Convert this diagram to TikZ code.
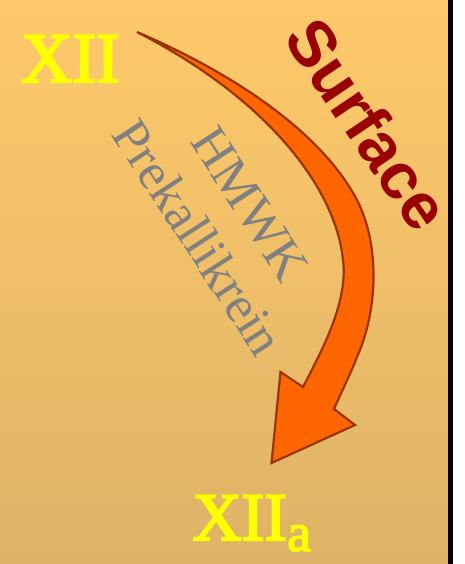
\documentclass[tikz,border=0pt]{standalone}
\usepackage{fontspec}
\setmainfont{Liberation Serif}
\newfontfamily\surffont{Liberation Sans}
\newfontfamily\boldish[FakeBold=3]{Liberation Serif}
\definecolor{bgtop}{RGB}{254,201,106}
\definecolor{bgbot}{RGB}{222,179,103}
\definecolor{arrowfill}{RGB}{255,102,0}
\definecolor{arrowline}{RGB}{153,51,0}
\definecolor{surfred}{RGB}{153,0,0}
\definecolor{labelgray}{RGB}{128,128,128}
\definecolor{xyellow}{RGB}{255,255,0}
\tikzset{
  factor/.style={text=xyellow, inner sep=0pt},
  bigarrow/.style={draw=arrowline, fill=arrowfill, line width=2.2pt, line join=miter},
}
\begin{document}
\begin{tikzpicture}[x=1pt,y=-1pt]
\useasboundingbox (0,0) rectangle (465,564);
\fill[white] (0,0) rectangle (465,564);
\shade[top color=bgtop,bottom color=bgbot] (0,0) rectangle (448,564);
\fill[black] (448,0) rectangle (453,564);
\draw[bigarrow] (137,32) .. controls (230,72) and (320,130) .. (357,200)
  .. controls (380,245) and (378,310) .. (357,357)
  .. controls (350,375) and (340,395) .. (334,409)
  -- (355,425) -- (271.5,463) -- (280.5,372) -- (303,387)
  .. controls (325,345) and (348,300) .. (343,260)
  .. controls (336,190) and (270,100) .. (137,32) -- cycle;
\node[factor, anchor=base west, font=\boldish\fontsize{71}{71}\selectfont] (xii) at (21,82) {XII};
\node[factor, anchor=base west, font=\boldish\fontsize{68}{68}\selectfont] (xiia) at (192.5,540) {XII\raisebox{-10.7pt}{\fontsize{54}{54}\selectfont a}};
\node[text=surfred, font=\surffont\bfseries\fontsize{65}{65}\selectfont, rotate=-56, inner sep=0pt] (surf) at (368,124) {Surface};
\node[text=labelgray, font=\fontsize{52}{62}\selectfont, align=center, rotate=-57, inner sep=0pt] (enz) at (224,221) {HMWK\\Prekallikrein};
\end{tikzpicture}
\end{document}
